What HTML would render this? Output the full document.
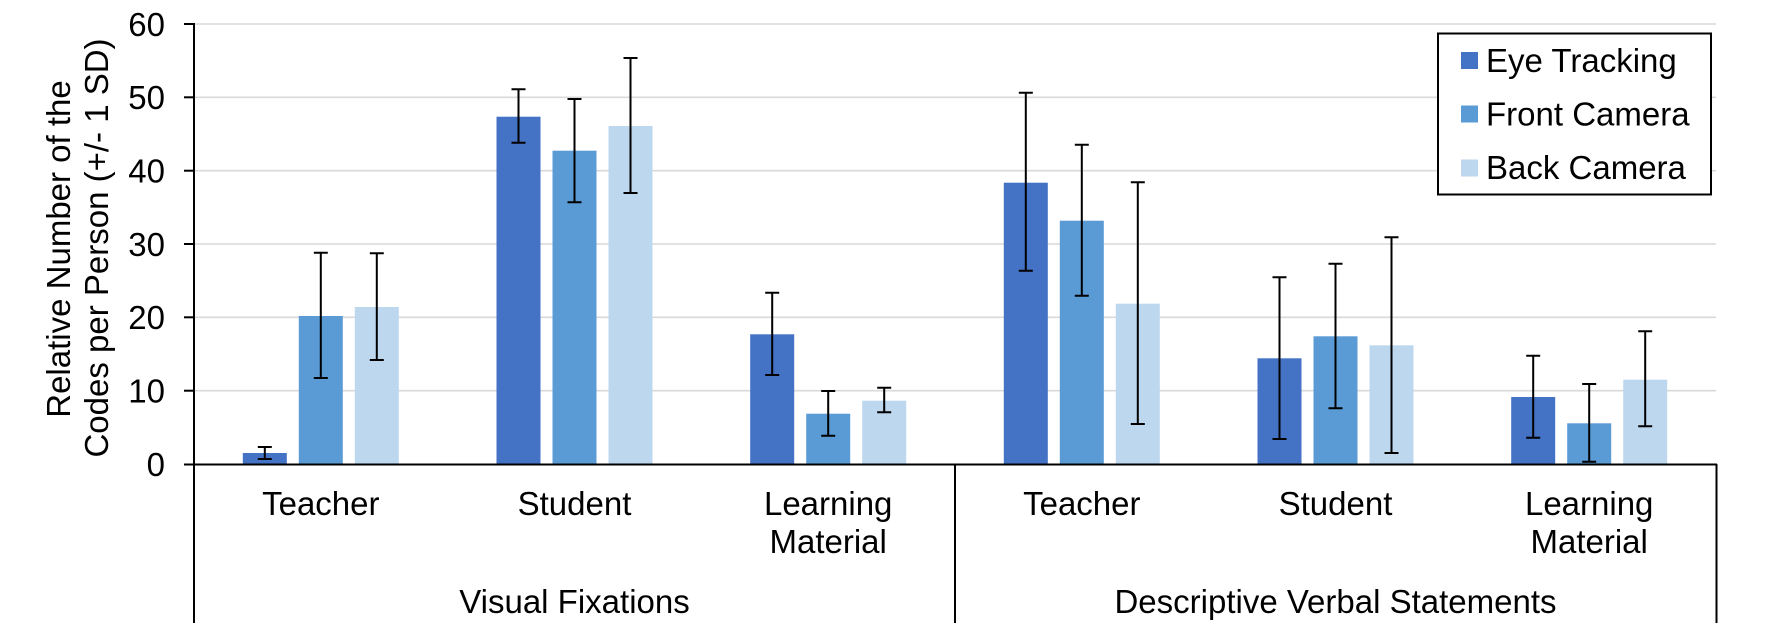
<!DOCTYPE html>
<html>
<head>
<meta charset="utf-8">
<style>
  html, body { margin: 0; padding: 0; background: #ffffff; }
  svg { display: block; }
  text { font-family: "Liberation Sans", Arial, sans-serif; fill: #000; }
</style>
</head>
<body>
<svg width="1772" height="633" viewBox="0 0 1772 633" xmlns="http://www.w3.org/2000/svg">
  <rect x="0" y="0" width="1772" height="633" fill="#ffffff"/>

  <!-- gridlines -->
  <g stroke="#d9d9d9" stroke-width="1.6">
    <line x1="194" y1="24" x2="1716" y2="24"/>
    <line x1="194" y1="97.3" x2="1716" y2="97.3"/>
    <line x1="194" y1="170.7" x2="1716" y2="170.7"/>
    <line x1="194" y1="244" x2="1716" y2="244"/>
    <line x1="194" y1="317.3" x2="1716" y2="317.3"/>
    <line x1="194" y1="390.7" x2="1716" y2="390.7"/>
  </g>

  <!-- bars -->
  <g>
    <!-- VF Teacher c=320.8 -->
    <rect x="242.8" y="453" width="44" height="11" fill="#4472C4"/>
    <rect x="298.8" y="316" width="44" height="148" fill="#5B9BD5"/>
    <rect x="354.8" y="307" width="44" height="157" fill="#BDD7EE"/>
    <!-- VF Student c=574.5 -->
    <rect x="496.5" y="116.7" width="44" height="347.3" fill="#4472C4"/>
    <rect x="552.5" y="150.7" width="44" height="313.3" fill="#5B9BD5"/>
    <rect x="608.5" y="126" width="44" height="338" fill="#BDD7EE"/>
    <!-- VF LM c=828.2 -->
    <rect x="750.2" y="334.3" width="44" height="129.7" fill="#4472C4"/>
    <rect x="806.2" y="413.7" width="44" height="50.3" fill="#5B9BD5"/>
    <rect x="862.2" y="400.7" width="44" height="63.3" fill="#BDD7EE"/>
    <!-- DVS Teacher c=1081.8 -->
    <rect x="1003.8" y="182.7" width="44" height="281.3" fill="#4472C4"/>
    <rect x="1059.8" y="220.7" width="44" height="243.3" fill="#5B9BD5"/>
    <rect x="1115.8" y="303.7" width="44" height="160.3" fill="#BDD7EE"/>
    <!-- DVS Student c=1335.5 -->
    <rect x="1257.5" y="358.3" width="44" height="105.7" fill="#4472C4"/>
    <rect x="1313.5" y="336.3" width="44" height="127.7" fill="#5B9BD5"/>
    <rect x="1369.5" y="345.3" width="44" height="118.7" fill="#BDD7EE"/>
    <!-- DVS LM c=1589.2 -->
    <rect x="1511.2" y="397" width="44" height="67" fill="#4472C4"/>
    <rect x="1567.2" y="423.3" width="44" height="40.7" fill="#5B9BD5"/>
    <rect x="1623.2" y="379.7" width="44" height="84.3" fill="#BDD7EE"/>
  </g>

  <!-- error bars -->
  <g stroke="#000" stroke-width="2" fill="none">
    <!-- c1 -->
    <path d="M264.8 447 V459 M257.8 447 H271.8 M257.8 459 H271.8"/>
    <path d="M320.8 252.7 V378 M313.8 252.7 H327.8 M313.8 378 H327.8"/>
    <path d="M376.8 253.3 V360 M369.8 253.3 H383.8 M369.8 360 H383.8"/>
    <!-- c2 -->
    <path d="M518.5 89.3 V142.7 M511.5 89.3 H525.5 M511.5 142.7 H525.5"/>
    <path d="M574.5 99 V202.3 M567.5 99 H581.5 M567.5 202.3 H581.5"/>
    <path d="M630.5 58 V193 M623.5 58 H637.5 M623.5 193 H637.5"/>
    <!-- c3 -->
    <path d="M772.2 292.7 V375 M765.2 292.7 H779.2 M765.2 375 H779.2"/>
    <path d="M828.2 391 V435.7 M821.2 391 H835.2 M821.2 435.7 H835.2"/>
    <path d="M884.2 387.7 V412.3 M877.2 387.7 H891.2 M877.2 412.3 H891.2"/>
    <!-- c4 -->
    <path d="M1025.8 92.7 V270.7 M1018.8 92.7 H1032.8 M1018.8 270.7 H1032.8"/>
    <path d="M1081.8 144.7 V295.7 M1074.8 144.7 H1088.8 M1074.8 295.7 H1088.8"/>
    <path d="M1137.8 182.3 V424 M1130.8 182.3 H1144.8 M1130.8 424 H1144.8"/>
    <!-- c5 -->
    <path d="M1279.5 277.3 V439 M1272.5 277.3 H1286.5 M1272.5 439 H1286.5"/>
    <path d="M1335.5 263.7 V408.3 M1328.5 263.7 H1342.5 M1328.5 408.3 H1342.5"/>
    <path d="M1391.5 237.3 V453 M1384.5 237.3 H1398.5 M1384.5 453 H1398.5"/>
    <!-- c6 -->
    <path d="M1533.2 355.7 V437.7 M1526.2 355.7 H1540.2 M1526.2 437.7 H1540.2"/>
    <path d="M1589.2 384 V461.7 M1582.2 384 H1596.2 M1582.2 461.7 H1596.2"/>
    <path d="M1645.2 331.3 V426.3 M1638.2 331.3 H1652.2 M1638.2 426.3 H1652.2"/>
  </g>

  <!-- axes -->
  <g stroke="#000" stroke-width="2">
    <line x1="194" y1="23" x2="194" y2="623"/>
    <line x1="184" y1="464.5" x2="1717" y2="464.5"/>
    <line x1="955" y1="464" x2="955" y2="623"/>
    <line x1="1716.5" y1="464" x2="1716.5" y2="623"/>
    <!-- y ticks -->
    <line x1="184" y1="24" x2="194" y2="24"/>
    <line x1="184" y1="97.3" x2="194" y2="97.3"/>
    <line x1="184" y1="170.7" x2="194" y2="170.7"/>
    <line x1="184" y1="244" x2="194" y2="244"/>
    <line x1="184" y1="317.3" x2="194" y2="317.3"/>
    <line x1="184" y1="390.7" x2="194" y2="390.7"/>
  </g>

  <!-- y tick labels -->
  <g font-size="33" text-anchor="end">
    <text x="165" y="35.8">60</text>
    <text x="165" y="109.1">50</text>
    <text x="165" y="182.5">40</text>
    <text x="165" y="255.8">30</text>
    <text x="165" y="329.1">20</text>
    <text x="165" y="402.5">10</text>
    <text x="165" y="475.8">0</text>
  </g>

  <!-- y axis title -->
  <g font-size="33" text-anchor="middle">
    <text transform="translate(70,249) rotate(-90)">Relative Number of the</text>
    <text transform="translate(108,248) rotate(-90)">Codes per Person (+/- 1 SD)</text>
  </g>

  <!-- category labels -->
  <g font-size="33" text-anchor="middle">
    <text x="320.8" y="515">Teacher</text>
    <text x="574.5" y="515">Student</text>
    <text x="828.2" y="515">Learning</text>
    <text x="828.2" y="553">Material</text>
    <text x="1081.8" y="515">Teacher</text>
    <text x="1335.5" y="515">Student</text>
    <text x="1589.2" y="515">Learning</text>
    <text x="1589.2" y="553">Material</text>
    <text x="574.5" y="613">Visual Fixations</text>
    <text x="1335.5" y="613">Descriptive Verbal Statements</text>
  </g>

  <!-- legend -->
  <rect x="1438" y="33.5" width="273" height="161" fill="#ffffff" stroke="#000" stroke-width="2"/>
  <rect x="1461" y="52" width="17" height="17" fill="#4472C4"/>
  <rect x="1461" y="105.5" width="17" height="17" fill="#5B9BD5"/>
  <rect x="1461" y="159.5" width="17" height="17" fill="#BDD7EE"/>
  <g font-size="33">
    <text x="1486" y="72">Eye Tracking</text>
    <text x="1486" y="125.3">Front Camera</text>
    <text x="1486" y="179">Back Camera</text>
  </g>
</svg>
</body>
</html>
